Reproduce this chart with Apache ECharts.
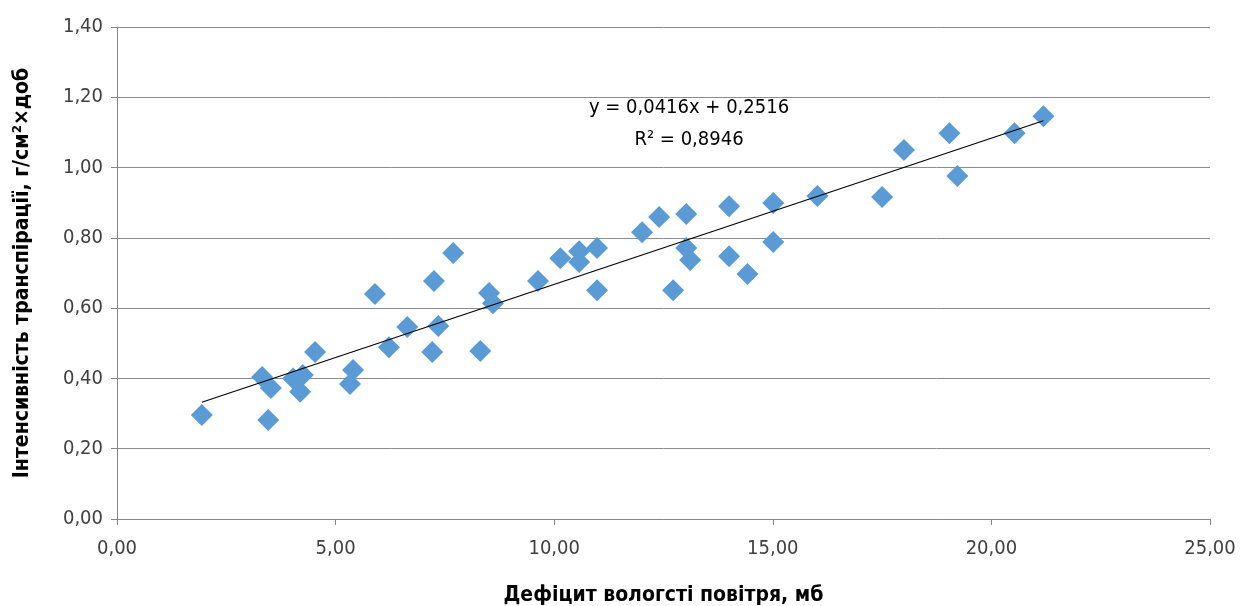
<!DOCTYPE html>
<html>
<head>
<meta charset="utf-8">
<script src="https://cdn.jsdelivr.net/npm/echarts@6/dist/echarts.min.js"></script>
<style>
  html, body { margin: 0; padding: 0; background: #fff; }
  #chart { width: 1242px; height: 606px; }
</style>
</head>
<body>
<div id="chart"></div>
<script>
// дефіцит вологості повітря, мб
const deficit = [
  1.94, 3.32, 3.52, 3.46, 4.03, 4.25, 4.19, 4.53, 5.40, 5.33,
  5.90, 6.22, 6.64, 7.25, 7.35, 7.21, 7.69, 8.31, 8.51, 8.60,
  9.63, 10.14, 10.57, 10.57, 10.98, 10.98, 12.01, 12.40, 12.72, 13.02,
  13.02, 13.11, 14.00, 14.00, 14.42, 15.01, 15.01, 16.02, 17.50, 18.00,
  19.04, 19.22, 20.53, 21.19
];
// інтенсивність транспірації
const intensity = [
  0.296, 0.404, 0.373, 0.282, 0.400, 0.410, 0.362, 0.475, 0.424, 0.384,
  0.640, 0.489, 0.546, 0.677, 0.549, 0.475, 0.757, 0.478, 0.643, 0.614,
  0.677, 0.742, 0.762, 0.731, 0.771, 0.651, 0.816, 0.859, 0.651, 0.868,
  0.771, 0.737, 0.890, 0.748, 0.697, 0.899, 0.788, 0.919, 0.916, 1.050,
  1.098, 0.976, 1.098, 1.146
];
// лінія тренду
const slope = 0.0416;
const intercept = 0.2516;
const trendLabel = ['y = 0,0416x + 0,2516', 'R² = 0,8946'];

const points = deficit.map((x, i) => [x, intensity[i]]);
const xMin = Math.min(...deficit);
const xMax = Math.max(...deficit);
const trend = [[xMin, slope * xMin + intercept], [xMax, slope * xMax + intercept]];

const fmt = v => v.toFixed(2).replace('.', ',');
const font = '"Liberation Sans Narrow", "DejaVu Sans Condensed", "Liberation Sans", sans-serif';

const chart = echarts.init(document.getElementById('chart'));
chart.setOption({
  animation: false,
  grid: { left: 117, right: 32, top: 27, bottom: 87, outerBoundsMode: 'none' },
  xAxis: {
    type: 'value', min: 0, max: 25, interval: 5,
    name: 'Дефіцит вологсті повітря, мб',
    nameLocation: 'middle', nameGap: 66,
    nameTextStyle: { fontFamily: font, fontSize: 21, fontWeight: 'bold', color: '#000' },
    axisLine: { show: true, lineStyle: { color: '#868686' } },
    axisTick: { show: true, length: 6, lineStyle: { color: '#868686' } },
    axisLabel: { formatter: fmt, fontFamily: font, fontSize: 20, color: '#404040', margin: 20 },
    splitLine: { show: false }
  },
  yAxis: {
    type: 'value', min: 0, max: 1.4, interval: 0.2,
    name: 'Інтенсивність транспірації, г/см²×доб',
    nameLocation: 'middle', nameGap: 84,
    nameTextStyle: { fontFamily: font, fontSize: 21, fontWeight: 'bold', color: '#000' },
    axisLine: { show: true, lineStyle: { color: '#868686' } },
    axisTick: { show: true, length: 6, lineStyle: { color: '#868686' } },
    axisLabel: { formatter: fmt, fontFamily: font, fontSize: 20, color: '#404040', margin: 14 },
    splitLine: { show: true, lineStyle: { color: '#8c8c8c', width: 1 } }
  },
  series: [
    {
      type: 'scatter',
      data: points,
      symbol: 'diamond',
      symbolSize: 22,
      itemStyle: { color: '#5b9bd5', opacity: 1 }
    },
    {
      type: 'line',
      data: trend,
      symbol: 'none',
      lineStyle: { color: '#000', width: 1.2 },
      z: 3
    }
  ],
  graphic: [{
    type: 'text',
    x: 689, y: 92,
    style: {
      text: trendLabel.join('\n'),
      align: 'center',
      fontFamily: font, fontSize: 20, lineHeight: 32, fill: '#000'
    }
  }]
});
</script>
</body>
</html>
